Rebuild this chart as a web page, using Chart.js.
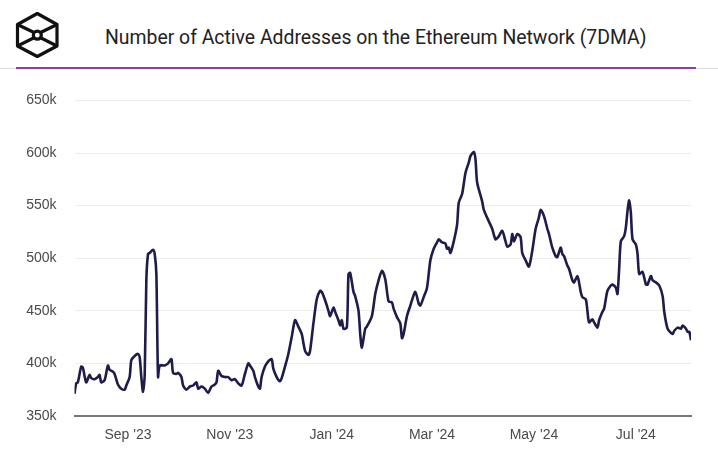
<!DOCTYPE html>
<html>
<head>
<meta charset="utf-8">
<script src="https://cdn.jsdelivr.net/npm/chart.js@4.4.1/dist/chart.umd.min.js"></script>
<style>
  html, body { margin: 0; padding: 0; background: #fff; }
  body { width: 718px; height: 451px; position: relative; overflow: hidden; font-family: Roboto, "Liberation Sans", sans-serif; }
  #logo { position: absolute; left: 0; top: 0; }
  #title { position: absolute; left: 105px; top: 26px; font-size: 19.4px; color: #222; white-space: nowrap; }
  #rule-grey { position: absolute; left: 0; top: 68px; width: 718px; height: 1px; background: #dcdcdc; }
  #rule-purple { position: absolute; left: 16px; top: 67px; width: 680px; height: 2px; background: #8b3fa6; }
  #wrap { position: absolute; left: 0; top: 74px; width: 718px; height: 377px; }
</style>
</head>
<body>
<svg id="logo" width="70" height="66" viewBox="0 0 70 66">
  <g fill="none" stroke="#111" stroke-width="3.2" stroke-linejoin="round">
    <polygon points="37.3,13.5 57,24.5 57,46 37.3,56.5 17.5,46 17.5,24.5"/>
    <line x1="17.5" y1="24.5" x2="34" y2="32.5"/>
    <line x1="57" y1="24.5" x2="40.6" y2="32.5"/>
    <line x1="17.5" y1="46" x2="34" y2="37.8"/>
    <line x1="57" y1="46" x2="40.6" y2="37.8"/>
    <circle cx="37.3" cy="35.2" r="4"/>
  </g>
</svg>
<div id="title">Number of Active Addresses on the Ethereum Network (7DMA)</div>
<div id="rule-grey"></div>
<div id="rule-purple"></div>
<div id="wrap"><canvas id="myChart" width="718" height="377"></canvas></div>
<script>
// 7-day moving average of active addresses, in thousands
const dates = [
  '2023-07-31', '2023-08-01', '2023-08-02', '2023-08-04', '2023-08-05', '2023-08-07', '2023-08-09', '2023-08-10',
  '2023-08-12', '2023-08-14', '2023-08-15', '2023-08-16', '2023-08-18', '2023-08-20', '2023-08-21', '2023-08-23',
  '2023-08-24', '2023-08-26', '2023-08-28', '2023-08-30', '2023-08-31', '2023-09-02', '2023-09-03', '2023-09-05',
  '2023-09-07', '2023-09-08', '2023-09-09', '2023-09-10', '2023-09-11', '2023-09-12', '2023-09-13', '2023-09-14',
  '2023-09-16', '2023-09-17', '2023-09-18', '2023-09-19', '2023-09-20', '2023-09-23', '2023-09-25', '2023-09-27',
  '2023-09-28', '2023-09-30', '2023-10-01', '2023-10-03', '2023-10-04', '2023-10-06', '2023-10-08', '2023-10-10',
  '2023-10-12', '2023-10-13', '2023-10-15', '2023-10-17', '2023-10-19', '2023-10-21', '2023-10-23', '2023-10-24',
  '2023-10-25', '2023-10-27', '2023-10-29', '2023-10-31', '2023-11-02', '2023-11-04', '2023-11-06', '2023-11-08',
  '2023-11-10', '2023-11-12', '2023-11-13', '2023-11-15', '2023-11-16', '2023-11-18', '2023-11-19', '2023-11-20',
  '2023-11-22', '2023-11-24', '2023-11-26', '2023-11-27', '2023-11-29', '2023-12-01', '2023-12-02', '2023-12-04',
  '2023-12-06', '2023-12-08', '2023-12-10', '2023-12-12', '2023-12-14', '2023-12-16', '2023-12-18', '2023-12-19',
  '2023-12-21', '2023-12-23', '2023-12-25', '2023-12-26', '2023-12-28', '2023-12-30', '2023-12-31', '2024-01-02',
  '2024-01-03', '2024-01-05', '2024-01-06', '2024-01-07', '2024-01-08', '2024-01-10', '2024-01-11', '2024-01-12',
  '2024-01-14', '2024-01-15', '2024-01-17', '2024-01-18', '2024-01-19', '2024-01-21', '2024-01-22', '2024-01-25',
  '2024-01-27', '2024-01-29', '2024-01-31', '2024-02-02', '2024-02-04', '2024-02-06', '2024-02-07', '2024-02-09',
  '2024-02-11', '2024-02-12', '2024-02-13', '2024-02-15', '2024-02-17', '2024-02-18', '2024-02-20', '2024-02-22',
  '2024-02-23', '2024-02-25', '2024-02-27', '2024-02-29', '2024-03-02', '2024-03-04', '2024-03-05', '2024-03-07',
  '2024-03-09', '2024-03-10', '2024-03-11', '2024-03-12', '2024-03-14', '2024-03-16', '2024-03-17', '2024-03-19',
  '2024-03-21', '2024-03-23', '2024-03-24', '2024-03-26', '2024-03-27', '2024-03-28', '2024-03-31', '2024-04-01',
  '2024-04-04', '2024-04-06', '2024-04-08', '2024-04-10', '2024-04-12', '2024-04-14', '2024-04-15', '2024-04-17',
  '2024-04-18', '2024-04-19', '2024-04-21', '2024-04-23', '2024-04-24', '2024-04-26', '2024-04-28', '2024-04-30',
  '2024-05-02', '2024-05-04', '2024-05-05', '2024-05-07', '2024-05-09', '2024-05-10', '2024-05-12', '2024-05-14',
  '2024-05-15', '2024-05-17', '2024-05-18', '2024-05-19', '2024-05-21', '2024-05-22', '2024-05-24', '2024-05-25',
  '2024-05-27', '2024-05-28', '2024-05-29', '2024-05-30', '2024-06-01', '2024-06-02', '2024-06-03', '2024-06-05',
  '2024-06-06', '2024-06-08', '2024-06-09', '2024-06-11', '2024-06-12', '2024-06-13', '2024-06-14', '2024-06-16',
  '2024-06-17', '2024-06-19', '2024-06-20', '2024-06-21', '2024-06-22', '2024-06-24', '2024-06-25', '2024-06-26',
  '2024-06-27', '2024-06-28', '2024-06-29', '2024-07-01', '2024-07-02', '2024-07-03', '2024-07-05', '2024-07-07',
  '2024-07-08', '2024-07-10', '2024-07-11', '2024-07-13', '2024-07-15', '2024-07-17', '2024-07-18', '2024-07-20',
  '2024-07-23', '2024-07-24', '2024-07-26', '2024-07-28', '2024-07-29', '2024-07-31', '2024-08-01', '2024-08-02',
  '2024-08-03'
];
const activeAddresses = [
  371, 381, 382, 397, 396, 382, 389, 386,
  385, 387, 389, 382, 384, 398, 394, 392,
  390, 380, 376, 375, 379, 387, 403, 407,
  409, 406, 387, 373, 388, 479, 504, 505,
  508, 504, 485, 387, 398, 398, 400, 404,
  391, 390, 391, 387, 379, 375, 378, 379,
  382, 376, 378, 376, 372, 378, 380, 382,
  393, 388, 387, 387, 384, 385, 381, 379,
  390, 400, 398, 393, 387, 378, 376, 387,
  397, 402, 404, 395, 387, 383, 386, 397,
  409, 425, 441, 435, 428, 412, 408, 412,
  438, 461, 469, 468, 460, 450, 445, 453,
  449, 441, 436, 441, 433, 434, 485, 486,
  468, 464, 450, 428, 415, 433, 435, 445,
  466, 479, 488, 480, 459, 458, 452, 444,
  438, 424, 428, 445, 455, 460, 468, 457,
  455, 463, 472, 498, 509, 515, 518, 515,
  514, 509, 510, 505, 516, 532, 553, 561,
  581, 591, 597, 601, 594, 572, 554, 546,
  535, 528, 518, 521, 526, 516, 511, 513,
  523, 516, 523, 520, 505, 498, 492, 507,
  528, 539, 546, 540, 528, 523, 510, 502,
  501, 510, 504, 502, 493, 490, 479, 477,
  483, 477, 468, 463, 461, 450, 439, 442,
  439, 434, 441, 449, 452, 461, 469, 474,
  475, 472, 466, 490, 516, 521, 529, 545,
  555, 543, 518, 513, 504, 485, 487, 475,
  475, 483, 479, 477, 474, 464, 449, 433,
  428, 431, 434, 433, 436, 433, 430, 430,
  422
];
const monthTicks = ['2023-09-01', '2023-11-01', '2024-01-01', '2024-03-01', '2024-05-01', '2024-07-01'];
const monthLabels = ["Sep '23", "Nov '23", "Jan '24", "Mar '24", "May '24", "Jul '24"];
const yTicks = [350, 400, 450, 500, 550, 600, 650];

const base = Date.UTC(2023, 8, 1);
function dayOf(iso) {
    const [y, m, d] = iso.split('-').map(Number);
    return (Date.UTC(y, m - 1, d) - base) / 86400000;
}

const points = dates.map((d, i) => ({ x: dayOf(d), y: activeAddresses[i] }));
const tickFont = { family: '"Liberation Sans", Arial, sans-serif', size: 14 };

const ctx = document.getElementById('myChart');
const myChart = new Chart(ctx, {
    type: 'line',
    data: {
        datasets: [{
            label: 'Active addresses (7DMA)',
            data: points,
            borderColor: '#1f1c4b',
            borderWidth: 2.6,
            pointRadius: 0,
            tension: 0.25,
            fill: false
        }]
    },
    options: {
        responsive: false,
        animation: false,
        layout: { padding: { top: 12, right: 27, left: 0, bottom: 0 } },
        plugins: { legend: { display: false }, tooltip: { enabled: false } },
        scales: {
            x: {
                type: 'linear',
                min: dayOf(dates[0]),
                max: dayOf(dates[dates.length - 1]),
                afterBuildTicks: (axis) => {
                    axis.ticks = monthTicks.map(t => ({ value: dayOf(t) }));
                },
                afterFit: (axis) => { axis.height = 35; },
                ticks: {
                    autoSkip: false,
                    maxRotation: 0,
                    padding: 11,
                    color: '#4a4a4a',
                    font: tickFont,
                    callback: (value, index) => monthLabels[index]
                },
                grid: { display: false, drawTicks: false },
                border: { color: '#777', width: 2 }
            },
            y: {
                min: yTicks[0],
                max: yTicks[yTicks.length - 1],
                afterBuildTicks: (axis) => {
                    axis.ticks = yTicks.map(v => ({ value: v }));
                },
                afterFit: (axis) => { axis.width = 74.5; },
                ticks: {
                    padding: 18,
                    color: '#4a4a4a',
                    font: tickFont,
                    callback: (value) => value + 'k'
                },
                grid: {
                    color: (c) => c.tick && c.tick.value === 350 ? 'rgba(0,0,0,0)' : '#ececec',
                    drawTicks: false
                },
                border: { display: false }
            }
        }
    }
});
</script>
</body>
</html>
